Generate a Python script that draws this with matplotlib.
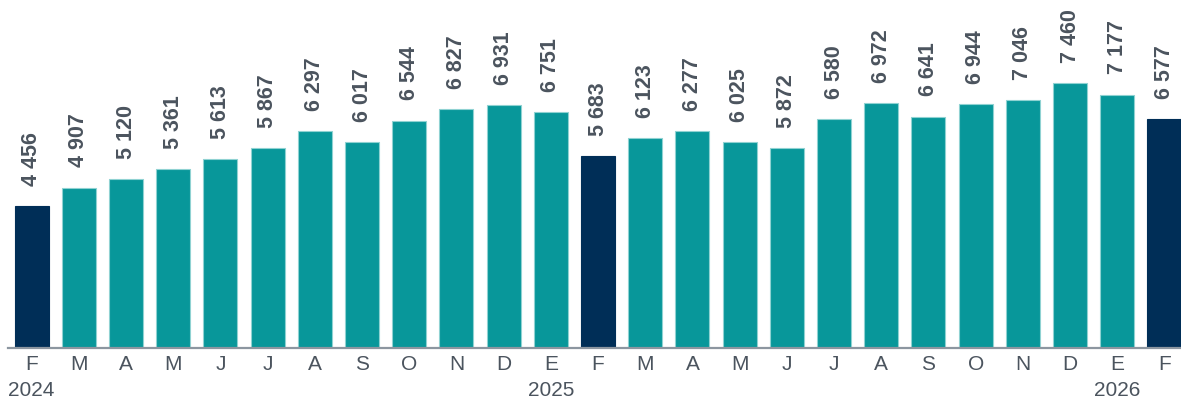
import matplotlib
matplotlib.use("Agg")
import matplotlib.pyplot as plt
from matplotlib.transforms import blended_transform_factory

months = ["F", "M", "A", "M", "J", "J", "A", "S", "O", "N", "D", "E",
          "F", "M", "A", "M", "J", "J", "A", "S", "O", "N", "D", "E", "F"]
values = [4456, 4907, 5120, 5361, 5613, 5867, 6297, 6017, 6544, 6827, 6931, 6751,
          5683, 6123, 6277, 6025, 5872, 6580, 6972, 6641, 6944, 7046, 7460, 7177, 6577]
years = ["2024", "2025", "2026"]

TEAL = "#08979a"
NAVY = "#002e57"
TEXT = "#4b545e"

plt.rcParams["font.family"] = ["Liberation Sans", "DejaVu Sans"]

fig = plt.figure(figsize=(11.81, 4.01), dpi=100)
ax = fig.add_axes([8 / 1181, (401 - 347.5) / 401, 1 - 8 / 1181, 347.5 / 401])

x = list(range(len(values)))
colors = [NAVY if m == "F" else TEAL for m in months]
edges = [NAVY if m == "F" else "#8fd2d2" for m in months]
ax.bar(x, values, width=0.72, color=colors, edgecolor=edges, linewidth=0.8,
       bottom=0, zorder=2)

ax.set_xlim(-0.5, 24.35)
ax.set_ylim(1000, 9488)

for xi, v in zip(x, values):
    s = f"{v:,}".replace(",", " ")
    ax.annotate(s, xy=(xi, v), xytext=(0, 14.5), textcoords="offset points",
                rotation=90, ha="center", va="bottom", fontsize=15.5,
                fontweight="bold", color=TEXT, annotation_clip=False)

for s in ax.spines.values():
    s.set_visible(False)
ax.set_yticks([])
ax.set_xticks([])
ax.axhline(1000, color="#8c96a0", linewidth=1.6, zorder=3, clip_on=False)

trans = blended_transform_factory(ax.transData, ax.transAxes)
for xi, m in zip(x, months):
    ax.annotate(m, xy=(xi, 0), xycoords=trans, xytext=(0, -12.6),
                textcoords="offset points", ha="center", va="center",
                fontsize=15, color=TEXT, annotation_clip=False)

year_pos = [0] + [i for i, m in enumerate(months) if m == "E"]
for yi, yl in zip(year_pos, years):
    ax.annotate(yl, xy=(yi, 0), xycoords=trans, xytext=(0, -30.6),
                textcoords="offset points", ha="center", va="center",
                fontsize=15, color=TEXT, annotation_clip=False)

fig.savefig("out.png", dpi=100)
